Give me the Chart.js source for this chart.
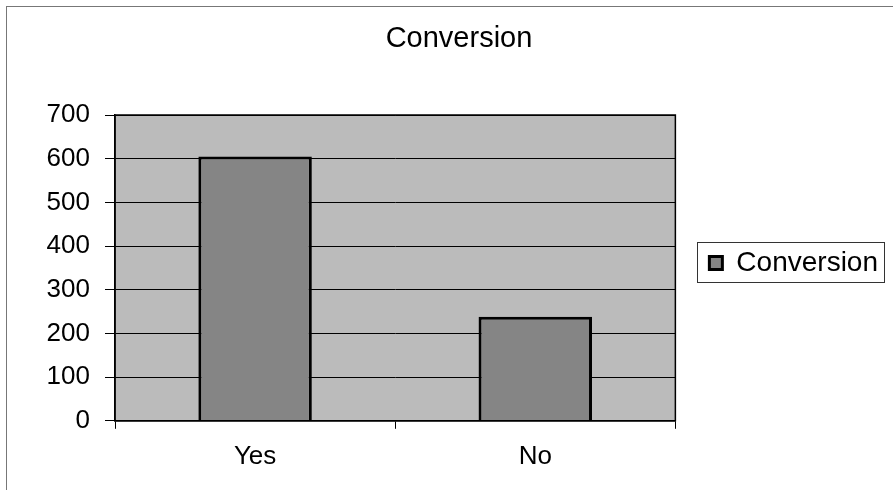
<!DOCTYPE html>
<html>
<head>
<meta charset="utf-8">
<script src="https://cdn.jsdelivr.net/npm/chart.js@4/dist/chart.umd.min.js"></script>
<style>
  html, body { margin: 0; padding: 0; background: #fff; }
  #wrap { position: relative; width: 893px; height: 490px; overflow: hidden; }
  #frame { position: absolute; left: 6px; top: 6px; width: 900px; height: 500px; border: 1px solid #777; }
  canvas { position: absolute; left: 0; top: 0; }
</style>
</head>
<body>
<div id="wrap">
  <div id="frame"></div>
  <canvas id="chart" width="893" height="490"></canvas>
</div>
<script>
const categories = ['Yes', 'No'];
const conversion = [605, 238];
const seriesName = 'Conversion';
const yTicks = [0, 100, 200, 300, 400, 500, 600, 700];

const FONT = "'Liberation Sans', Arial, sans-serif";

// gray plot background plus a closing border on the right/top
const plotArea = {
  id: 'plotArea',
  beforeDraw(chart) {
    const {ctx, chartArea: a} = chart;
    ctx.save();
    ctx.fillStyle = '#bbbbbb';
    ctx.fillRect(a.left, a.top, a.right - a.left, a.bottom - a.top);
    ctx.restore();
  },
  afterDatasetsDraw(chart) {
    const {ctx, chartArea: a} = chart;
    ctx.save();
    ctx.strokeStyle = '#000';
    ctx.lineWidth = 1.5;
    ctx.strokeRect(a.left, a.top, a.right - a.left, a.bottom - a.top);
    ctx.restore();
  }
};

// box around the legend
const legendBox = {
  id: 'legendBox',
  afterDraw(chart) {
    const lg = chart.legend;
    if (!lg || !lg.legendHitBoxes || !lg.legendHitBoxes.length) return;
    const h = lg.legendHitBoxes[0];
    const {ctx} = chart;
    ctx.save();
    ctx.strokeStyle = '#333';
    ctx.lineWidth = 1;
    ctx.strokeRect(Math.round(h.left - 12) + 0.5, Math.round(h.top - 7) + 0.5, Math.round(h.width + 18), Math.round(h.height + 12));
    ctx.restore();
  }
};

new Chart(document.getElementById('chart'), {
  type: 'bar',
  data: {
    labels: categories,
    datasets: [{
      label: seriesName,
      data: conversion,
      backgroundColor: '#858585',
      borderColor: '#000',
      borderWidth: 3,
      categoryPercentage: 1.0,
      barPercentage: 0.405
    }]
  },
  options: {
    responsive: false,
    animation: false,
    layout: { padding: { left: 30, right: 5, top: 0, bottom: 6 } },
    plugins: {
      title: {
        display: true,
        text: seriesName,
        color: '#000',
        font: { family: FONT, size: 29, weight: 'normal' },
        padding: { top: 21.5, bottom: 58.7 }
      },
      legend: {
        position: 'right',
        title: { display: true, text: ' ', font: { size: 12 }, padding: { top: 14, bottom: 13.6 } },
        labels: {
          color: '#000',
          font: { family: FONT, size: 28 },
          boxWidth: 13,
          boxHeight: 13,
          padding: 34
        }
      },
      tooltip: { enabled: false }
    },
    scales: {
      x: {
        grid: { drawOnChartArea: false, drawTicks: true, tickLength: 8, color: '#000', offset: true },
        border: { color: '#000', width: 1.5 },
        ticks: { color: '#000', font: { family: FONT, size: 26 }, padding: 12 }
      },
      y: {
        min: 0,
        max: 700,
        afterFit(s) { s.width = 85; },
        afterBuildTicks(s) { s.ticks = yTicks.map(v => ({ value: v })); },
        grid: { color: '#000', lineWidth: 1, tickLength: 10 },
        border: { color: '#000', width: 1.5 },
        ticks: { color: '#000', font: { family: FONT, size: 26 }, padding: 15 }
      }
    }
  },
  plugins: [plotArea, legendBox]
});
</script>
</body>
</html>
